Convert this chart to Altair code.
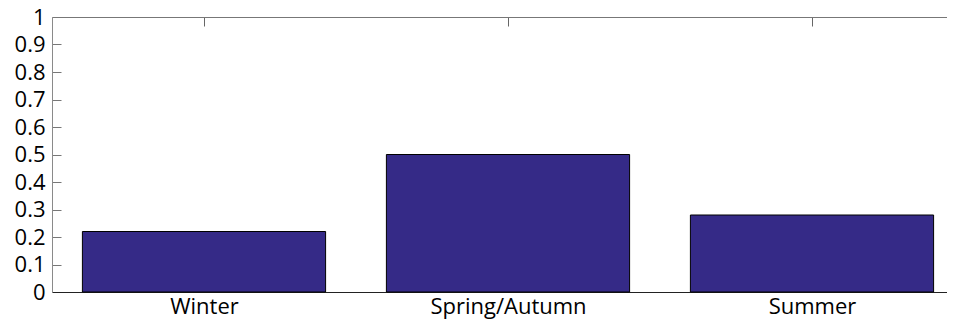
import altair as alt
import pandas as pd

categories = ["Winter", "Spring/Autumn", "Summer"]
values = [0.22, 0.50, 0.28]
positions = [1, 2, 3]
y_ticks = [0, 0.1, 0.2, 0.3, 0.4, 0.5, 0.6, 0.7, 0.8, 0.9, 1]

df = pd.DataFrame({"category": categories, "value": values, "pos": positions})

FONT = "Open Sans"
label_expr = "[" + ",".join("'" + c + "'" for c in categories) + "][datum.value - 1]"

xscale = alt.Scale(domain=[0.5, 0.5 + 904 / 304], nice=False, zero=False)
yscale = alt.Scale(domain=[0, 1], nice=False)

bars = alt.Chart(df).transform_calculate(
    x0="datum.pos - 0.4", x1="datum.pos + 0.4"
).mark_bar(color="#352a87", stroke="black", strokeWidth=1).encode(
    x=alt.X("x0:Q", scale=xscale,
            axis=alt.Axis(orient="bottom", title=None, values=positions,
                          labelExpr=label_expr, ticks=False, labelPadding=4,
                          labelFont=FONT, labelFontSize=22, labelColor="black",
                          domainColor="#222222", grid=True, gridDash=[9, 2000],
                          gridColor="#666666", zindex=0)),
    x2="x1:Q",
    y=alt.Y("value:Q", scale=yscale,
            axis=alt.Axis(orient="left", title=None, values=y_ticks, format="~g",
                          ticks=False, labelPadding=7, labelFont=FONT,
                          labelFontSize=22, labelColor="black",
                          domainColor="#8a8a8a", grid=True, gridDash=[9, 2000],
                          gridColor="#777777", minExtent=44, maxExtent=44,
                          zindex=0)),
    y2=alt.datum(0),
)

frame = alt.Chart(df).mark_point(opacity=0).encode(
    x=alt.X("pos:Q", scale=xscale,
            axis=alt.Axis(orient="top", title=None, values=positions,
                          labels=False, ticks=False, domainColor="#777777",
                          grid=True, gridDash=[9, 2000], gridColor="#777777",
                          zindex=0)),
    y=alt.Y("value:Q", scale=yscale, axis=None),
)

chart = alt.layer(frame, bars).resolve_axis(
    x="independent", y="independent"
).properties(
    width=904, height=275,
    padding={"left": 44, "top": 9, "right": -9, "bottom": 31},
    autosize=alt.AutoSizeParams(type="none"),
).configure_view(stroke=None)

chart.save("out.html", embed_options={"renderer": "svg", "actions": False})
